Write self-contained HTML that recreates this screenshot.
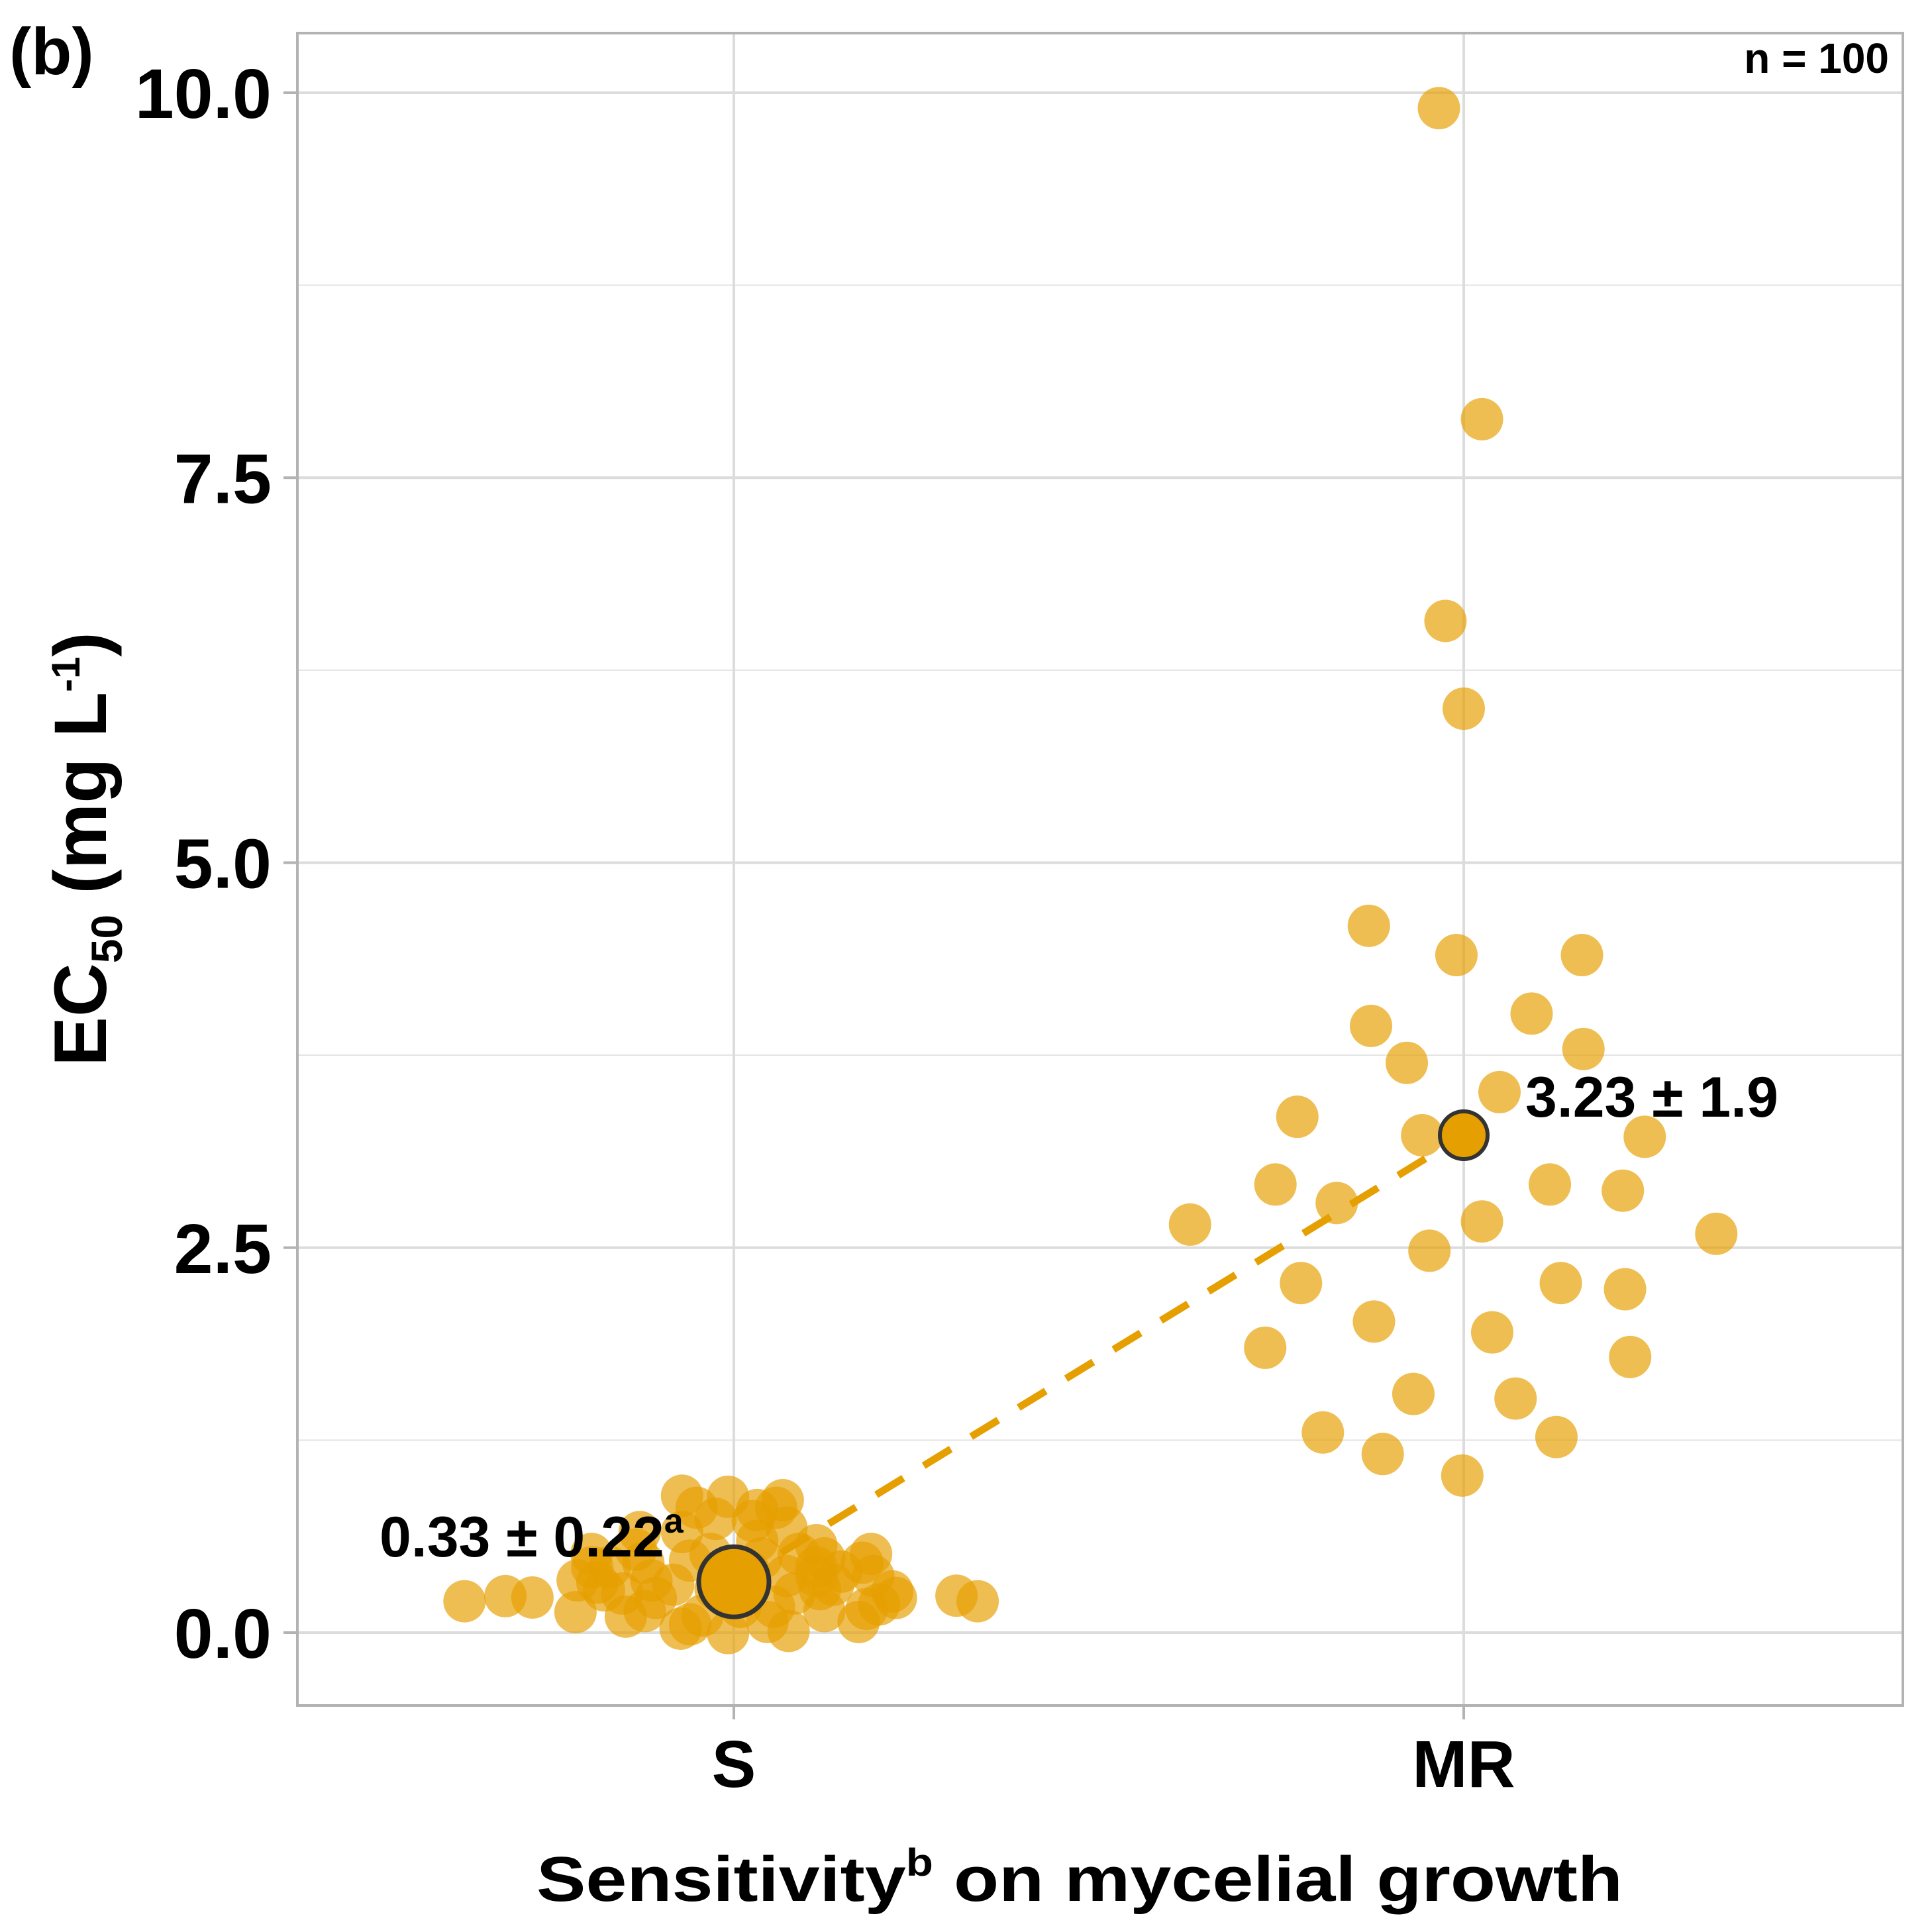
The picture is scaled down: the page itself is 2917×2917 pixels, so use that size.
<!DOCTYPE html>
<html><head><meta charset="utf-8"><style>
html,body{margin:0;padding:0;background:#fff;}
svg{display:block;font-family:"Liberation Sans",sans-serif;}
</style></head><body>
<svg id="chart" width="2917" height="2917" viewBox="0 0 2917 2917" xmlns="http://www.w3.org/2000/svg">
<g id="grid"></g>
<g id="marks"></g>
<rect x="449" y="50" width="2424" height="2525" fill="none" stroke="#b3b3b3" stroke-width="4"/>
<g id="axes"></g>
<text x="14" y="112" font-size="100" font-weight="bold">(b)</text>
<text x="2852" y="110" font-size="64" font-weight="bold" text-anchor="end">n = 100</text>
<text x="1630" y="2870" font-size="96" font-weight="bold" text-anchor="middle" textLength="1640" lengthAdjust="spacingAndGlyphs">Sensitivity<tspan font-size="58" dy="-38">b</tspan><tspan dy="38"> on mycelial growth</tspan></text>
<text transform="translate(160,1282) rotate(-90)" font-size="112" font-weight="bold" text-anchor="middle">EC<tspan font-size="66" dy="24">50</tspan><tspan dy="-24"> (mg L</tspan><tspan font-size="60" dy="-40">-1</tspan><tspan dy="40">)</tspan></text>
</svg>
<script>
const categories = ["S","MR"];
const yTicks = [0,2.5,5,7.5,10];
const yTickLabels = ["0.0","2.5","5.0","7.5","10.0"];
const yMinor = [1.25,3.75,6.25,8.75];
const sJitter = [-0.369,-0.313,-0.276,-0.217,-0.214,-0.194,-0.178,-0.195,-0.148,-0.122,-0.113,-0.124,-0.170,-0.071,-0.051,-0.008,0.032,0.067,0.058,-0.025,-0.071,0.026,0.072,-0.060,-0.083,-0.060,-0.073,-0.008,0.046,0.075,0.055,0.072,0.089,0.113,0.124,0.118,0.124,0.171,0.182,0.199,0.188,0.176,0.191,0.217,0.305,0.334,0.032,0.021,-0.107,-0.134,0.113,0.147,-0.129,-0.032,0.038,0.083,0.009,-0.025,-0.153,-0.187,0.222,0.136,0.113,-0.043];
const sValues = [0.204,0.237,0.228,0.133,0.339,0.425,0.275,0.511,0.104,0.140,0.339,0.454,0.425,0.889,0.811,0.882,0.796,0.860,0.811,0.739,0.653,0.725,0.682,0.468,0.311,0.054,0.026,-0.003,0.069,0.011,0.168,0.368,0.511,0.568,0.482,0.282,0.140,0.069,0.154,0.183,0.511,0.454,0.368,0.268,0.240,0.204,0.596,0.396,0.225,0.539,0.368,0.396,0.653,0.511,0.482,0.254,0.168,0.282,0.254,0.325,0.225,0.311,0.425,0.111];
const mrJitter = [-0.034,0.025,-0.025,0,-0.130,-0.010,0.162,0.093,-0.127,0.164,-0.078,0.049,-0.228,-0.057,0.248,-0.258,0.118,0.218,-0.174,-0.375,0.025,0.346,-0.047,-0.223,0.133,0.221,-0.123,0.039,-0.272,0.228,-0.069,0.071,-0.193,0.127,-0.111,-0.002];
const mrValues = [9.90,7.88,6.57,6.00,4.59,4.40,4.40,4.02,3.94,3.79,3.70,3.51,3.35,3.23,3.22,2.91,2.91,2.87,2.79,2.65,2.67,2.59,2.48,2.27,2.27,2.23,2.02,1.95,1.85,1.79,1.55,1.52,1.30,1.27,1.16,1.02];
const means = [0.33,3.23];
const meanLabels = ["0.33 ± 0.22","3.23 ± 1.9"];

const NS="http://www.w3.org/2000/svg";
const y = v => 2465 - v*232.5;
const x = c => 1108 + c*1102;
function mk(tag, attrs, parent){const e=document.createElementNS(NS,tag);for(const k in attrs)e.setAttribute(k,attrs[k]);parent.appendChild(e);return e;}
const grid=document.getElementById('grid'), marks=document.getElementById('marks'), axes=document.getElementById('axes');
yMinor.forEach(v=>{const l=mk('line',{x1:449,x2:2873,y1:y(v),y2:y(v),stroke:'#e3e3e3','stroke-width':2},grid);

});
yTicks.forEach((v,i)=>{const l=mk('line',{x1:449,x2:2873,y1:y(v),y2:y(v),stroke:'#dcdcdc','stroke-width':4},grid);


const t=mk('line',{x1:428,x2:449,y1:y(v),y2:y(v),stroke:'#b3b3b3','stroke-width':4},axes);


const tx=mk('text',{x:410,y:y(v)+38,'font-size':106,'font-weight':'bold','text-anchor':'end'},axes);
tx.textContent=yTickLabels[i];

});
categories.forEach((c,i)=>{const l=mk('line',{x1:x(i),x2:x(i),y1:50,y2:2575,stroke:'#dcdcdc','stroke-width':4},grid);


const t=mk('line',{x1:x(i),x2:x(i),y1:2575,y2:2596,stroke:'#b3b3b3','stroke-width':4},axes);


const tx=mk('text',{x:x(i),y:2698,'font-size':100,'font-weight':'bold','text-anchor':'middle'},axes);
tx.textContent=c;

});
sValues.forEach((v,i)=>{const d=mk('circle',{cx:x(0+sJitter[i]),cy:y(v),r:32,fill:'#E69F00','fill-opacity':0.68},marks);

});
mrValues.forEach((v,i)=>{const d=mk('circle',{cx:x(1+mrJitter[i]),cy:y(v),r:32,fill:'#E69F00','fill-opacity':0.68},marks);

});
const ln=mk('line',{x1:x(0),y1:y(means[0]),x2:x(1),y2:y(means[1]),stroke:'#E69F00','stroke-width':11,'stroke-dasharray':'48 36'},marks);


const mS=mk('circle',{cx:x(0),cy:y(means[0]),r:53,fill:'#E69F00',stroke:'#333','stroke-width':7},marks);


const mM=mk('circle',{cx:x(1),cy:y(means[1]),r:36,fill:'#E69F00',stroke:'#333','stroke-width':6},marks);


const l1=mk('text',{x:573,y:2350,'font-size':86,'font-weight':'bold'},marks);
l1.innerHTML=meanLabels[0]+'<tspan font-size="52" dy="-36">a</tspan>';


const l2=mk('text',{x:2303,y:1686,'font-size':86,'font-weight':'bold'},marks);
l2.textContent=meanLabels[1];


</script>
</body></html>
